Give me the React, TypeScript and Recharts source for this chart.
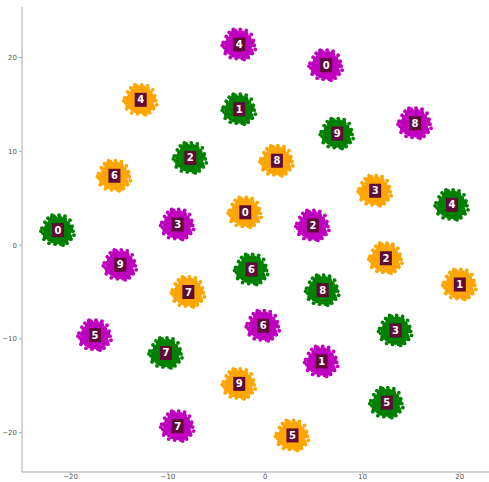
import { ScatterChart, Scatter, XAxis, YAxis } from "recharts";

interface Cluster {
  x: number;
  y: number;
  label: string;
}

const orangeClusters: Cluster[] = [
  { x: -12.8, y: 15.5, label: "4" },
  { x: 1.2, y: 9.0, label: "8" },
  { x: -15.5, y: 7.4, label: "6" },
  { x: 11.3, y: 5.8, label: "3" },
  { x: -2.05, y: 3.5, label: "0" },
  { x: 12.4, y: -1.4, label: "2" },
  { x: 20.0, y: -4.2, label: "1" },
  { x: -7.9, y: -5.0, label: "7" },
  { x: -2.67, y: -14.8, label: "9" },
  { x: 2.8, y: -20.3, label: "5" },
];

const greenClusters: Cluster[] = [
  { x: -2.67, y: 14.5, label: "1" },
  { x: 7.4, y: 11.9, label: "9" },
  { x: -7.7, y: 9.3, label: "2" },
  { x: 19.2, y: 4.3, label: "4" },
  { x: -21.3, y: 1.6, label: "0" },
  { x: -1.4, y: -2.6, label: "6" },
  { x: 5.9, y: -4.8, label: "8" },
  { x: 13.4, y: -9.1, label: "3" },
  { x: -10.2, y: -11.5, label: "7" },
  { x: 12.5, y: -16.8, label: "5" },
];

const magentaClusters: Cluster[] = [
  { x: -2.67, y: 21.4, label: "4" },
  { x: 6.26, y: 19.2, label: "0" },
  { x: 15.4, y: 13.0, label: "8" },
  { x: -9.0, y: 2.2, label: "3" },
  { x: 4.9, y: 2.1, label: "2" },
  { x: -14.9, y: -2.1, label: "9" },
  { x: -0.2, y: -8.6, label: "6" },
  { x: -17.5, y: -9.6, label: "5" },
  { x: 5.8, y: -12.4, label: "1" },
  { x: -9.0, y: -19.3, label: "7" },
];

const xTicks = [-20, -10, 0, 10, 20];
const yTicks = [-20, -10, 0, 10, 20];

// rough look of a t-SNE blob, pixel offsets around the cluster centre
const RING = [
  [11, 0], [10, 5], [8, 8], [4, 11], [0, 11], [-5, 10], [-8, 8], [-11, 4],
  [-12, -1], [-10, -5], [-7, -9], [-3, -11], [2, -11], [6, -10], [9, -6],
  [12, -2], [-12, 6], [11, 7], [-5, -12], [7, 11],
];
const STRAY = [
  [15, 1], [14, -4], [13, 9], [9, 13], [3, 14], [-3, 14], [-9, 13], [-14, 9],
  [-15, 3], [-16, -2], [-13, -8], [-10, -12], [-4, -14], [1, -15], [7, -14],
  [12, -10], [16, 5], [-17, 1], [5, 15], [-6, -15],
];

const fmt = (v: number) => (v < 0 ? `\u2212${Math.abs(v)}` : `${v}`);

function blob(color: string) {
  return (props: any) => {
    const { cx, cy, payload } = props;
    return (
      <g>
        <circle cx={cx} cy={cy} r={11} fill={color} />
        {RING.map(([dx, dy], i) => (
          <circle key={"r" + i} cx={cx + dx} cy={cy + dy} r={3.2} fill={color} />
        ))}
        {STRAY.map(([dx, dy], i) => (
          <circle key={"s" + i} cx={cx + dx} cy={cy + dy} r={1.9} fill={color} />
        ))}
        <rect x={cx - 6} y={cy - 7} width={12} height={14} fill="#5e0b38" />
        <text
          x={cx}
          y={cy + 3.5}
          textAnchor="middle"
          fontSize={10}
          fontWeight="bold"
          fontFamily="DejaVu Sans"
          fill="#ffffff"
        >
          {payload.label}
        </text>
      </g>
    );
  };
}

const tickStyle = { fontSize: 7, fill: "#555", fontFamily: "DejaVu Sans" };

export default function App() {
  return (
    <div style={{ position: "absolute", left: 0, top: 0, background: "#fff" }}>
      <ScatterChart
        width={489}
        height={482}
        margin={{ top: 7, right: 0, bottom: 0, left: 0 }}
      >
        <XAxis
          xAxisId="top"
          orientation="top"
          type="number"
          dataKey="x"
          domain={[-25, 23]}
          height={0}
          tick={false}
          tickLine={false}
          stroke="#aaa"
        />
        <XAxis
          type="number"
          dataKey="x"
          domain={[-25, 23]}
          ticks={xTicks}
          tickFormatter={fmt}
          height={10}
          tickSize={2}
          tick={{ ...tickStyle, dy: -2 }}
          stroke="#aaa"
          allowDataOverflow
        />
        <YAxis
          type="number"
          dataKey="y"
          domain={[-24.2, 25.4]}
          ticks={yTicks}
          tickFormatter={fmt}
          width={22}
          tickSize={3}
          tick={tickStyle}
          stroke="#aaa"
          allowDataOverflow
        />
        <Scatter data={orangeClusters} shape={blob("#ffa500")} isAnimationActive={false} />
        <Scatter data={greenClusters} shape={blob("#008000")} isAnimationActive={false} />
        <Scatter data={magentaClusters} shape={blob("#bf00bf")} isAnimationActive={false} />
      </ScatterChart>
    </div>
  );
}
